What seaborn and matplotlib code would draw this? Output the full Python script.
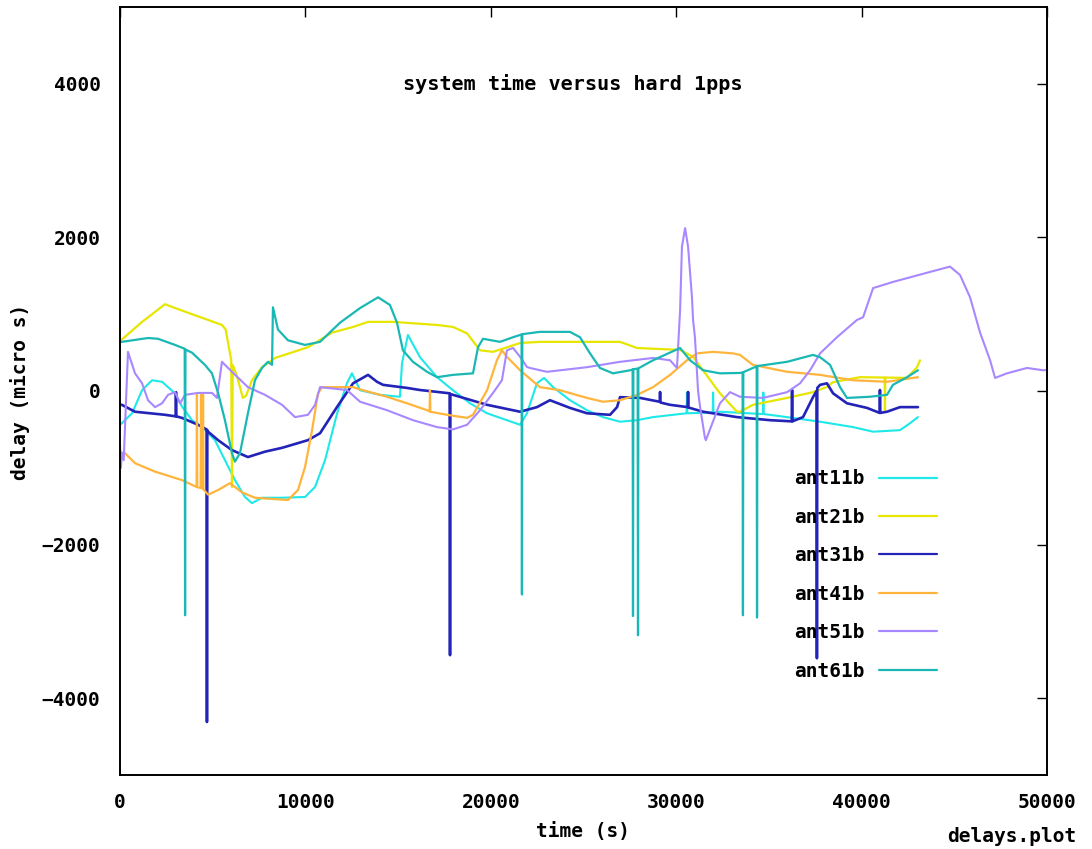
import matplotlib
matplotlib.use("Agg")
import matplotlib.pyplot as plt
import seaborn as sns
import pandas as pd

# ---- delay series: time (s) and delay (micro s) per antenna ----
ant11b_t = [0, 100, 650, 1190, 1730, 2270, 2590, 2970, 3340, 3880, 4420, 5120, 5660, 6200, 6740,
            7120, 7660, 8740, 9980, 10520, 11060, 11700, 12240, 12510, 12950, 14020, 15100, 15210,
            15530, 16180, 17100, 17960, 18880, 19800, 20870, 21580, 21950, 22490, 22870, 23360,
            24270, 25190, 26050, 26970, 27890, 28750, 30560, 30580, 30600, 31970, 31990, 32010,
            32360, 34680, 34700, 34720, 35980, 37760, 39540, 40620, 42070, 42610, 43040]
ant11b_d = [-440, -420, -290, 10, 140, 120, 50, -30, -200, -380, -470, -640, -900, -1160, -1380,
            -1460, -1390, -1390, -1380, -1250, -900, -300, 100, 230, 10, -50, -75, 360,
            730, 440, 180, 10, -160, -290, -380, -440, -290, 100, 170, 50,
            -120, -250, -340, -400, -380, -340, -290, -20, -290, -280, -20, -280,
            -270, -300, -20, -300, -340, -400, -470, -530, -510, -420, -340]

ant21b_t = [0, 100, 1190, 2430, 2970, 4000, 5500, 5700, 6000, 6040, 6080, 6300, 6630, 6800,
            7120, 7660, 8360, 10140, 10790, 11440, 12570, 13380, 14730, 17100, 17960, 18720,
            19420, 20120, 21580, 22650, 26970, 27890, 30210, 30910, 32360, 33280, 33440, 34140,
            35980, 37380, 38130, 38460, 39910, 41240, 41260, 41280, 42450, 42990, 43150]
ant21b_d = [660, 670, 900, 1130, 1080, 990, 860, 800, 400, -1250, 340, 200, -90, -60,
            140, 310, 430, 570, 665, 760, 834, 900, 900, 860, 834, 750,
            530, 510, 625, 640, 640, 560, 535, 445, -30, -270, -270, -180,
            -90, -15, 52, 115, 180, 175, -250, 175, 170, 310, 400]

ant31b_t = [0, 100, 810, 2430, 3000, 3020, 3040, 3340, 4210, 4670, 4690, 4710, 4750, 5290, 6040,
            6900, 7820, 8740, 10140, 10790, 11700, 12570, 13380, 13860, 14190, 15480, 16180,
            17780, 17800, 17820, 17960, 19800, 21580, 22490, 23190, 24270, 25190, 26430, 26810,
            26970, 28050, 29110, 29130, 29150, 29670, 30620, 30640, 30660, 31450, 33280, 35060,
            36230, 36250, 36270, 36840, 37380, 37570, 37590, 37610, 37760, 38130, 38460, 39210,
            40290, 40970, 40990, 41010, 41370, 42070, 43040]
ant31b_d = [-180, -180, -270, -310, -330, -15, -330, -350, -440, -500, -4310, -510, -530, -640, -770,
            -860, -790, -740, -640, -550, -210, 100, 210, 120, 80, 40, 13,
            -30, -3440, -40, -50, -180, -270, -210, -120, -220, -290, -310, -210,
            -80, -90, -140, -13, -150, -180, -210, -13, -215, -270, -340, -380,
            -395, 13, -395, -340, -80, 0, -3480, 40, 80, 100, -30, -160,
            -220, -285, 13, -285, -270, -210, -210]

ant41b_t = [0, 270, 810, 1890, 3340, 4130, 4150, 4170, 4350, 4370, 4390, 4460, 4480, 4500,
            4750, 5290, 5930, 6580, 7280, 9060, 9600, 9980, 10360, 10680, 10900, 12570, 13110,
            14400, 15480, 16560, 16700, 16720, 16740, 17640, 18720, 19040, 19800, 20330, 20600,
            20870, 21580, 22650, 23730, 25190, 26050, 26970, 27890, 28750, 29670, 30580, 31120,
            31990, 33060, 33440, 34140, 35980, 37760, 39540, 41370, 43040]
ant41b_d = [-830, -810, -940, -1050, -1160, -1250, -50, -1255, -1260, -50, -1265, -1270, -50, -1280,
            -1350, -1290, -1200, -1320, -1390, -1420, -1290, -990, -510, -30, 50, 50, 10,
            -75, -160, -250, -265, 10, -270, -310, -350, -310, 10, 400, 530,
            445, 270, 50, 10, -90, -140, -120, -50, 50, 210, 400, 490,
            510, 490, 470, 340, 250, 210, 140, 120, 180]

ant51b_t = [0, 50, 100, 200, 430, 810, 1190, 1510, 1890, 2270, 2590, 2970, 3240, 3510, 4210,
            4960, 5230, 5500, 6040, 6900, 7820, 8740, 9440, 10140, 10520, 10790, 12240, 12950,
            14400, 15800, 17100, 17960, 18720, 19420, 20120, 20600, 20870, 21200, 21580, 21950,
            22110, 23030, 25190, 26970, 28750, 29670, 30040, 30210, 30310, 30480, 30640, 30850,
            30910, 31010, 31180, 31290, 31550, 31600, 32360, 32900, 33440, 34680, 35980, 36680,
            37220, 37760, 38670, 39750, 40080, 40620, 41690, 43530, 44770, 45310, 45850, 46390,
            46930, 47200, 47840, 48920, 49790, 50500]
ant51b_d = [-700, -1000, -800, -900, 510, 230, 100, -120, -210, -160, -50, -15, -160, -50, -25,
            -25, -90, 380, 250, 50, -50, -180, -340, -310, -180, 50, 13, -140,
            -250, -380, -470, -500, -440, -250, -25, 140, 530, 560, 445, 313,
            300, 250, 310, 380, 430, 400, 300, 1050, 1880, 2120, 1880, 1220,
            925, 700, 0, -210, -610, -640, -160, -15, -75, -90, -15, 100,
            270, 490, 700, 925, 960, 1340, 1420, 1540, 1620, 1510, 1220, 760,
            400, 170, 230, 300, 270, 280]

ant61b_t = [0, 100, 1510, 2050, 2970, 3490, 3510, 3530, 3880, 4580, 4960, 5290, 5660, 6040,
            6200, 6470, 6900, 7280, 7660, 7980, 8200, 8250, 8520, 9060, 9980, 10790, 11870,
            12950, 13920, 14560, 14940, 15260, 15800, 16560, 17100, 17960, 19040, 19310, 19580,
            20500, 21200, 21580, 21660, 21680, 21700, 22650, 24270, 24810, 25350, 25890, 26590,
            27510, 27650, 27670, 27690, 27920, 27940, 27960, 28750, 30210, 30750, 31450, 32360,
            33440, 33580, 33600, 33620, 34140, 34340, 34360, 34380, 35980, 37380, 37760, 38300,
            38840, 39210, 40450, 41370, 41690, 42450, 43040]
ant61b_d = [640, 640, 690, 680, 600, 550, -2920, 540, 500, 340, 230, -25, -380, -810,
            -920, -810, -290, 140, 300, 380, 340, 1090, 800, 660, 600, 640, 890,
            1080, 1220, 1120, 890, 530, 380, 250, 180, 210, 230, 570, 680,
            640, 700, 730, 735, -2650, 740, 770, 770, 700, 490, 300, 230,
            270, 280, -2930, 285, 290, -3180, 295, 400, 560, 400, 270, 230,
            235, 240, -2920, 245, 300, 320, -2950, 325, 380, 470, 440, 340,
            50, -90, -75, -50, 80, 180, 270]

labels = ["ant11b", "ant21b", "ant31b", "ant41b", "ant51b", "ant61b"]
colors = ["#1ee8e8", "#e6e600", "#2323b8", "#ffb43c", "#a888ff", "#1ab8b4"]
widths = [1.5, 1.6, 1.9, 1.6, 1.5, 1.6]

series = {
    "ant11b": (ant11b_t, ant11b_d),
    "ant21b": (ant21b_t, ant21b_d),
    "ant31b": (ant31b_t, ant31b_d),
    "ant41b": (ant41b_t, ant41b_d),
    "ant51b": (ant51b_t, ant51b_d),
    "ant61b": (ant61b_t, ant61b_d),
}

frames = []
for name in labels:
    t, d = series[name]
    frames.append(pd.DataFrame({"time": t, "delay": d, "antenna": name}))
df = pd.concat(frames, ignore_index=True)

sns.set_theme(style="white")
plt.rcParams["font.family"] = ["DejaVu Sans Mono"]
plt.rcParams["font.weight"] = "bold"
plt.rcParams["text.color"] = "black"
plt.rcParams["axes.labelcolor"] = "black"

fig = plt.figure(figsize=(10.92, 8.49), dpi=100)
ax = fig.add_axes([120 / 1092, 74 / 849, 927 / 1092, 768 / 849])

for name, col, lw in zip(labels, colors, widths):
    sub = df[df["antenna"] == name]
    sns.lineplot(data=sub, x="time", y="delay", ax=ax, color=col, linewidth=lw,
                 estimator=None, sort=False, label=name)

ax.set_xlim(0, 50000)
ax.set_ylim(-5000, 5000)
ax.set_xticks([0, 10000, 20000, 30000, 40000, 50000])
ax.set_yticks([-4000, -2000, 0, 2000, 4000])
ax.tick_params(axis="both", direction="in", length=7, width=1, color="black",
               labelsize=14, top=True, right=True, labelcolor="black")
ax.tick_params(axis="x", pad=13)
ax.tick_params(axis="y", pad=14)
for lab in ax.get_xticklabels() + ax.get_yticklabels():
    lab.set_fontweight("bold")
for sp in ax.spines.values():
    sp.set_color("black")
    sp.set_linewidth(1.4)

ax.set_xlabel("")
ax.set_ylabel("")
fig.text(583 / 1092, 1 - 832 / 849, "time (s)", ha="center", va="center",
         fontsize=14, fontweight="bold", color="black")
fig.text(20 / 1092, 1 - 392 / 849, "delay (micro s)", ha="center", va="center",
         rotation=90, fontsize=14, fontweight="bold", color="black")
fig.text(1012 / 1092, 1 - 836 / 849, "delays.plot", ha="center", va="center",
         fontsize=14, fontweight="bold", color="black")
ax.text(24400, 4000, "system time versus hard 1pps", ha="center", va="center",
        fontsize=14.5, fontweight="bold", color="black")

leg = ax.legend(loc="upper left", bbox_to_anchor=(0.727, 0.398), frameon=False,
                markerfirst=False, fontsize=14, handlelength=3.0, handletextpad=0.75,
                labelspacing=1.0, borderpad=0, borderaxespad=0)
for txt in leg.get_texts():
    txt.set_fontweight("bold")
    txt.set_color("black")
for h in leg.get_lines():
    h.set_linewidth(1.6)

fig.savefig("out.png", dpi=100, facecolor="white")
